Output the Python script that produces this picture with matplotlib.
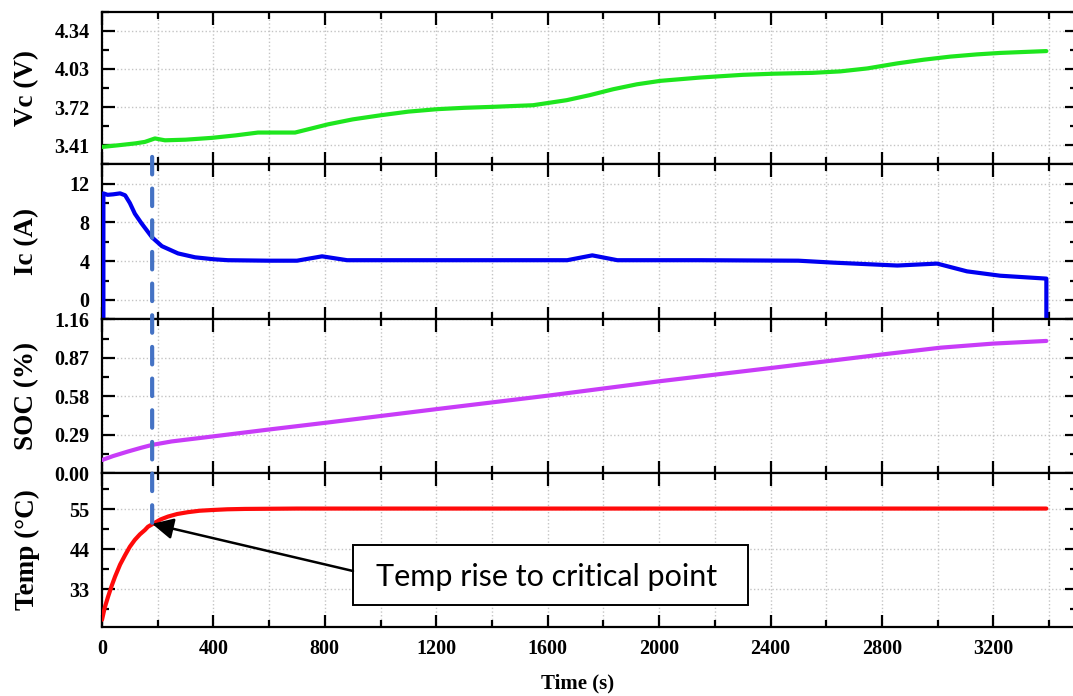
import numpy as NP

import matplotlib
matplotlib.use("Agg")
import matplotlib.pyplot as plt
from matplotlib.ticker import MultipleLocator, FixedLocator, FormatStrFormatter
from matplotlib.patches import ConnectionPatch, Rectangle

# terminal voltage (V)
TIME_VC = [0, 60, 120, 154, 190, 226, 300, 395, 480, 560, 693, 750, 812, 900,
           1002, 1100, 1203, 1300, 1404, 1547, 1668, 1751, 1835, 1920, 2004,
           2147, 2300, 2409, 2550, 2650, 2747, 2855, 2950, 3045, 3140, 3224,
           3390]
VC = [3.396, 3.410, 3.425, 3.437, 3.465, 3.450, 3.455, 3.470, 3.490, 3.513,
      3.513, 3.545, 3.580, 3.620, 3.654, 3.683, 3.703, 3.714, 3.722, 3.735,
      3.776, 3.817, 3.865, 3.905, 3.933, 3.960, 3.982, 3.991, 3.998, 4.010,
      4.034, 4.075, 4.105, 4.130, 4.148, 4.160, 4.175]

# charging current (A)
TIME_IC = [5, 5, 20, 40, 65, 83, 100, 118, 142, 180, 215, 273, 334, 400, 452,
           600, 700, 790, 880, 1200, 1670, 1760, 1850, 2150, 2500, 2625, 2855,
           2998, 3105, 3224, 3390, 3390]
IC = [-2.5, 11.0, 10.85, 10.9, 11.0, 10.8, 10.0, 8.9, 7.9, 6.45, 5.55, 4.8,
      4.4, 4.2, 4.1, 4.05, 4.05, 4.5, 4.1, 4.1, 4.1, 4.6, 4.1, 4.1, 4.05,
      3.85, 3.55, 3.75, 2.95, 2.5, 2.2, -2.5]

# state of charge
TIME_SOC = [0, 40, 93, 140, 180, 250, 395, 600, 812, 1207, 1601, 2004, 2409,
            2804, 3009, 3199, 3390]
SOC = [0.100, 0.130, 0.164, 0.192, 0.214, 0.240, 0.277, 0.330, 0.383, 0.485,
       0.585, 0.694, 0.795, 0.896, 0.946, 0.977, 0.997]

# cell temperature (degC)
TIME_TEMP = [0, 10, 22, 35, 47, 65, 83, 100, 118, 136, 154, 165, 183, 210,
             237, 270, 308, 350, 395, 450, 513, 700, 1000, 2000, 3390]
TEMP = [24.6, 28.0, 31.0, 34.0, 36.5, 39.8, 42.4, 44.7, 46.6, 48.1, 49.3, 50.2,
        51.0, 52.2, 53.0, 53.7, 54.2, 54.6, 54.8, 55.0, 55.1, 55.2, 55.2, 55.2,
        55.2]

CRITICAL_TIME = 180
CRITICAL_TEMP = 51.0
NOTE_TEXT = "Temp rise to critical point"

FIG_W, FIG_H = 1073, 696
LEFT_PX, RIGHT_PX = 102, 1077
EDGES_PX = [11.7, 164.3, 319.3, 473.3, 626.7]

TICK_FONT = {"family": "Liberation Serif", "weight": "bold"}

PANELS = [
    # y label, limits, major, minor, format, colour
    ("Vc (V)", (3.255, 4.495), [3.41, 3.72, 4.03, 4.34], 0.155, "%.2f", "#1ee61e"),
    ("Ic (A)", (-2, 14), [0, 4, 8, 12], 2, "%d", "#0000f0"),
    ("SOC (%)", (0, 1.16), [0, 0.29, 0.58, 0.87, 1.16], 0.145, "%.2f", "#c83cf8"),
    ("Temp (\u00b0C)", (22.7, 64.9), [33, 44, 55], 5.5, "%d", "#ff0a0a"),
]

SERIES = [(TIME_VC, VC), (TIME_IC, IC), (TIME_SOC, SOC), (TIME_TEMP, TEMP)]


def make_axes(fig):
    axes = []
    for idx in range(4):
        top, bottom = EDGES_PX[idx], EDGES_PX[idx + 1]
        rect = [LEFT_PX / FIG_W, 1 - bottom / FIG_H,
                (RIGHT_PX - LEFT_PX) / FIG_W, (bottom - top) / FIG_H]
        axes.append(fig.add_axes(rect))
    return axes


def style_axis(axis, label, limits, major, minor, fmt, last):
    axis.set_xlim(0, 3500)
    axis.set_ylim(*limits)
    axis.xaxis.set_major_locator(MultipleLocator(400))
    axis.xaxis.set_minor_locator(MultipleLocator(200))
    axis.yaxis.set_major_locator(FixedLocator(major))
    axis.yaxis.set_minor_locator(MultipleLocator(minor))
    axis.yaxis.set_major_formatter(FormatStrFormatter(fmt))

    axis.tick_params(which="both", direction="in", top=True, right=True,
                     width=1.6, color="black")
    axis.tick_params(which="major", length=9, pad=9, labelsize=14.5)
    axis.tick_params(which="minor", length=5)
    if not last:
        axis.tick_params(axis="x", labelbottom=False)

    for tick in axis.get_xticklabels() + axis.get_yticklabels():
        tick.set_fontfamily(TICK_FONT["family"])
        tick.set_fontweight(TICK_FONT["weight"])

    for spine in axis.spines.values():
        spine.set_linewidth(1.6)

    axis.grid(which="both", axis="x", color="#c4c4c4", linestyle=":", linewidth=1.0)
    axis.grid(which="major", axis="y", color="#c4c4c4", linestyle=":", linewidth=1.0)
    axis.set_axisbelow(True)

    axis.set_ylabel(label, fontsize=19.5, **TICK_FONT)


def px_to_axes(axis_idx, x_px, y_px):
    top, bottom = EDGES_PX[axis_idx], EDGES_PX[axis_idx + 1]
    return ((x_px - LEFT_PX) / (RIGHT_PX - LEFT_PX),
            (bottom - y_px) / (bottom - top))


fig = plt.figure(figsize=(FIG_W / 100, FIG_H / 100), dpi=100)
all_axes = make_axes(fig)

for idx, axis in enumerate(all_axes):
    label, limits, major, minor, fmt, color = PANELS[idx]
    style_axis(axis, label, limits, major, minor, fmt, idx == 3)
    x_values, y_values = SERIES[idx]
    axis.plot(x_values, y_values, color=color, linewidth=3.0,
              solid_capstyle="round", solid_joinstyle="round", zorder=3)

for axis in all_axes:
    axis.yaxis.set_label_coords(-0.064, 0.5)

# dashed marker running from the voltage panel down to the critical temperature
marker = ConnectionPatch(
    xyA=(CRITICAL_TIME, 3.315), coordsA=all_axes[0].transData,
    xyB=(CRITICAL_TIME, CRITICAL_TEMP), coordsB=all_axes[3].transData,
    color="#4472c4", linewidth=3.0, linestyle=(0, (4.2, 3.4)), zorder=5
)
fig.add_artist(marker)

# note box with arrow to the critical point
temp_axis = all_axes[3]
box_x0, box_y0 = px_to_axes(3, 353, 605)
box_x1, box_y1 = px_to_axes(3, 748, 545)
temp_axis.add_patch(Rectangle((box_x0, box_y0), box_x1 - box_x0, box_y1 - box_y0,
                              transform=temp_axis.transAxes, fc="white",
                              ec="black", lw=1.4, zorder=6))
temp_axis.text(*px_to_axes(3, 547, 577), NOTE_TEXT, transform=temp_axis.transAxes,
               ha="center", va="center", fontsize=22, family="Lato", zorder=7)
temp_axis.annotate(
    "", xy=(CRITICAL_TIME, CRITICAL_TEMP), xytext=px_to_axes(3, 353, 571),
    textcoords="axes fraction",
    arrowprops=dict(arrowstyle="-|>", color="black", lw=1.8,
                    mutation_scale=32, shrinkA=0, shrinkB=0),
    zorder=7
)

fig.text(578 / FIG_W, 1 - 683 / FIG_H, "Time (s)", ha="center", va="center",
         fontsize=15, **TICK_FONT)

fig.savefig("out.png", dpi=100)
